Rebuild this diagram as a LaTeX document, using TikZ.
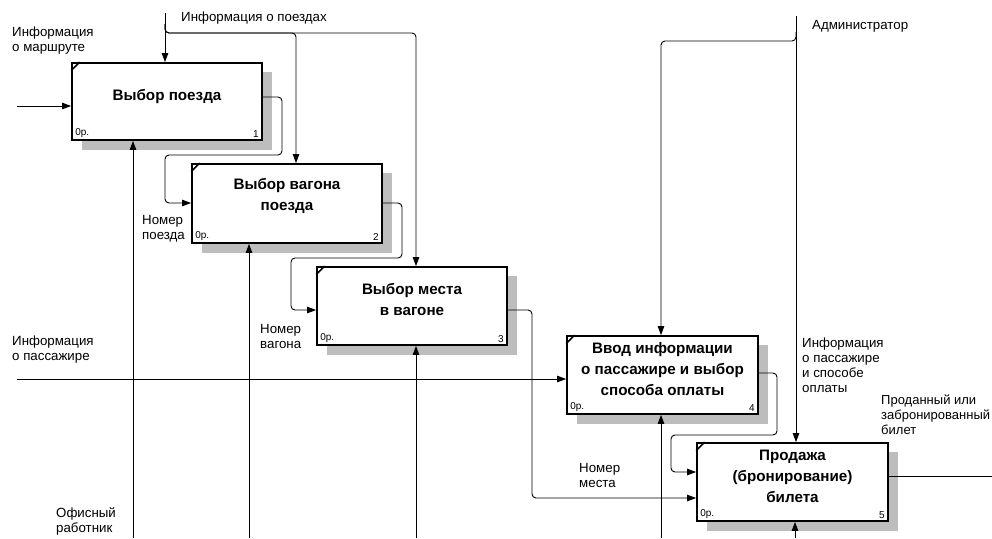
\documentclass[tikz,border=0pt]{standalone}
\usepackage{fontspec}
\setmainfont{Liberation Sans}
\usetikzlibrary{arrows.meta,calc}
\newcommand\ideffunc[8]{% name, left, top, right, bottom, text y, text, number
  \fill[shadowc] (#2+10,#3+9) rectangle (#4+10,#5+10);
  \node[boxn, minimum width=#4-#2, minimum height=#5-#3] (#1) at ({(#2+#4)/2},{(#3+#5)/2}) {};
  \draw[line width=1.5pt] (#1.north west) ++(0,8.5) -- ++(8.5,-8.5);
  \node[boxtext] (#1t) at ({(#2+#4)/2},#6) {#7};
  \node[tinyt, anchor=south west] (#1o) at ([shift={(4,-3)}]#1.south west) {0р.};
  \node[tinyt, anchor=south east] (#1n) at ([shift={(-4,-3)}]#1.south east) {#8};
}
\begin{document}
\begin{tikzpicture}[x=1pt,y=-1pt,
  conn/.style={line width=0.9pt, rounded corners=4pt},
  arr/.style={conn,-{Triangle[length=9pt,width=6.5pt]}},
  boxn/.style={draw, line width=1.8pt, fill=white, inner sep=0pt},
  shadowc/.style={fill=black!26},
  boxtext/.style={font=\fontsize{15.2}{21}\selectfont\bfseries, align=center, inner sep=0pt},
  lbl/.style={font=\fontsize{13.3}{15}\selectfont, align=left, anchor=west, inner sep=0pt},
  tinyt/.style={font=\fontsize{10}{10}\selectfont, inner sep=0pt}]
\useasboundingbox (0,0) rectangle (992,538);

\ideffunc{b1}{72}{63}{262}{140}{97}{Выбор поезда}{1}
\ideffunc{b2}{192}{164}{382}{243}{196}{Выбор вагона\\поезда}{2}
\ideffunc{b3}{317}{267}{507}{345}{299}{Выбор места\\в вагоне}{3}
\ideffunc{b4}{567}{336}{758}{414}{369}{Ввод информации\\о пассажире и выбор\\способа оплаты}{4}
\ideffunc{b5}{697}{443}{888}{521}{476}{Продажа\\(бронирование)\\билета}{5}

% inputs
\coordinate (in1) at (17,106);
\draw[arr] (in1) -- (in1 -| b1.west);
\coordinate (in4) at (17,379);
\draw[arr] (in4) -- (in4 -| b4.west);

% controls: train information
\coordinate (ctop) at (165,13);
\draw[arr] (ctop) -- (ctop |- b1.north);
\coordinate (cj) at (165,24);
\coordinate (c2) at (296,33);
\coordinate (c3) at (416,33);
\draw[arr] (cj) |- (c2) -- (c2 |- b2.north);
\draw[arr] (cj) |- (c3) -- (c3 |- b3.north);

% controls: administrator
\coordinate (atop) at (796,16);
\draw[arr] (atop) -- (atop |- b5.north);
\coordinate (aj) at (796,32);
\coordinate (a4) at (661,41);
\draw[arr] (aj) |- (a4) -- (a4 |- b4.north);

% mechanisms
\foreach \n/\xx in {1/133,2/249,3/416,4/661,5/795}{
  \coordinate (m\n) at (\xx,538);
  \draw[arr] (m\n) -- (m\n |- b\n.south);
}

% outputs
\draw[arr] (b1.east |- 0,97) -- (282,97) -- (282,155) -- (165,155) -- (165,203) -- (b2.west |- 0,203);
\draw[arr] (b2.east |- 0,203) -- (402,203) -- (402,258) -- (291,258) -- (291,310) -- (b3.west |- 0,310);
\draw[arr] (b3.east |- 0,310) -- (532,310) -- (532,498) -- (b5.west |- 0,498);
\draw[arr] (b4.east |- 0,373) -- (777,373) -- (777,435) -- (671,435) -- (671,472) -- (b5.west |- 0,472);
\coordinate (out5) at (992,476);
\draw[conn] (b5.east |- out5) -- (out5);

% labels
\node[lbl] (l1) at (12,40.5) {Информация\\о маршруте};
\node[lbl] (l2) at (181,18) {Информация о поездах};
\node[lbl] (l3) at (142,228.5) {Номер\\поезда};
\node[lbl] (l4) at (260,336) {Номер\\вагона};
\node[lbl] (l5) at (12,350) {Информация\\о пассажире};
\node[lbl] (l6) at (56,521.5) {Офисный\\работник};
\node[lbl] (l7) at (579,475.5) {Номер\\места};
\node[lbl] (l8) at (812,26) {Администратор};
\node[lbl] (l9) at (802,365) {Информация\\о пассажире\\и способе\\оплаты};
\node[lbl, font=\fontsize{13}{15}\selectfont] (l10) at (881,414.5) {Проданный или\\забронированный\\билет};
\end{tikzpicture}
\end{document}
